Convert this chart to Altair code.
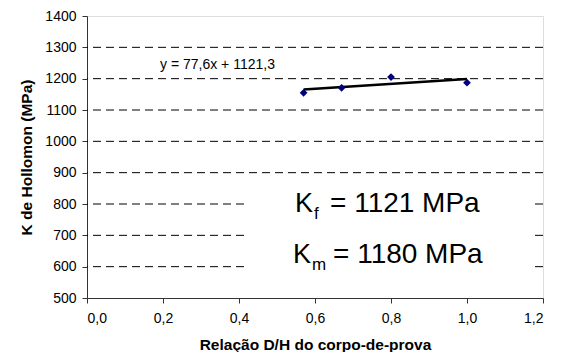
import altair as alt
import pandas as pd

ratio = [0.57, 0.67, 0.80, 1.00]
k_holl = [1155, 1171, 1205, 1187]
trend_x = [0.57, 1.00]
slope, intercept = 77.6, 1121.3
trend_y = [slope * v + intercept for v in trend_x]
x_ticks = [0, 0.2, 0.4, 0.6, 0.8, 1.0, 1.2]
y_ticks = list(range(500, 1401, 100))
grid_lines = list(range(600, 1301, 100))

pts = pd.DataFrame({"x": ratio, "y": k_holl})
trend = pd.DataFrame({"x": trend_x, "y": trend_y})

FONT = "Liberation Sans"
xs = alt.Scale(domain=[0, 1.2], nice=False)
ys = alt.Scale(domain=[500, 1400], nice=False)

xax = alt.Axis(values=x_ticks, format=".1f",
               labelExpr="replace(datum.label, '.', ',')", grid=False, labelOverlap=False,
               title="Relação D/H do corpo-de-prova", titleFont=FONT, titleFontSize=15.5,
               titleFontWeight="bold", titlePadding=12, labelFont=FONT, labelFontSize=14,
               labelColor="black", titleColor="black", domainColor="#333", tickColor="#333",
               tickSize=5, labelPadding=8)
yax = alt.Axis(values=y_ticks, format="d", grid=False, labelOverlap=False,
               title="K de Hollomon (MPa)", titleFont=FONT, titleFontSize=15.5,
               titleFontWeight="bold", titlePadding=10, labelFont=FONT, labelFontSize=14,
               labelColor="black", titleColor="black", domainColor="#333", tickColor="#333",
               tickSize=5, labelPadding=6)

grid = alt.Chart(pd.DataFrame({"g": grid_lines})).mark_rule(
    color="black", strokeDash=[8, 5], strokeWidth=1).encode(
    y=alt.Y("g:Q", scale=ys, axis=yax))

box = alt.Chart(pd.DataFrame({"a": [0]})).mark_rect(color="white").encode(
    x=alt.value(162), x2=alt.value(445), y=alt.value(166), y2=alt.value(264))

line = alt.Chart(trend).mark_line(color="black", strokeWidth=2.5).encode(
    x=alt.X("x:Q", scale=xs, axis=xax), y=alt.Y("y:Q", scale=ys, axis=yax))
points = alt.Chart(pts).mark_point(shape="diamond", filled=True, color="#000080", size=60, opacity=1).encode(
    x=alt.X("x:Q", scale=xs, axis=xax), y=alt.Y("y:Q", scale=ys, axis=yax))

eq = alt.Chart(pd.DataFrame({"t": ["y = 77,6x + 1121,3"]})).mark_text(
    font=FONT, fontSize=14, color="black", align="left", baseline="middle").encode(
    text="t:N", x=alt.value(73), y=alt.value(49))

def txt(s, x, y, size):
    return alt.Chart(pd.DataFrame({"t": [s]})).mark_text(
        font=FONT, fontSize=size, color="black", align="left", baseline="alphabetic").encode(
        text="t:N", x=alt.value(x), y=alt.value(y))

kf = txt("K", 208, 196, 27) + txt("f", 227, 203, 17) + txt("= 1121 MPa", 243, 196, 28)
km = txt("K", 206, 247, 27) + txt("m", 225, 254, 17) + txt("= 1180 MPa", 246, 247, 28)

chart = alt.layer(grid, box, line, points, eq, kf, km).properties(
    width=456, height=282,
    autosize=alt.AutoSizeParams(type="none"),
    padding={"left": 79, "top": 8, "right": 16, "bottom": 54},
).configure_view(stroke="#888", strokeWidth=1).configure(background="white")

chart.save("out.html", embed_options={"renderer": "svg", "actions": False})
